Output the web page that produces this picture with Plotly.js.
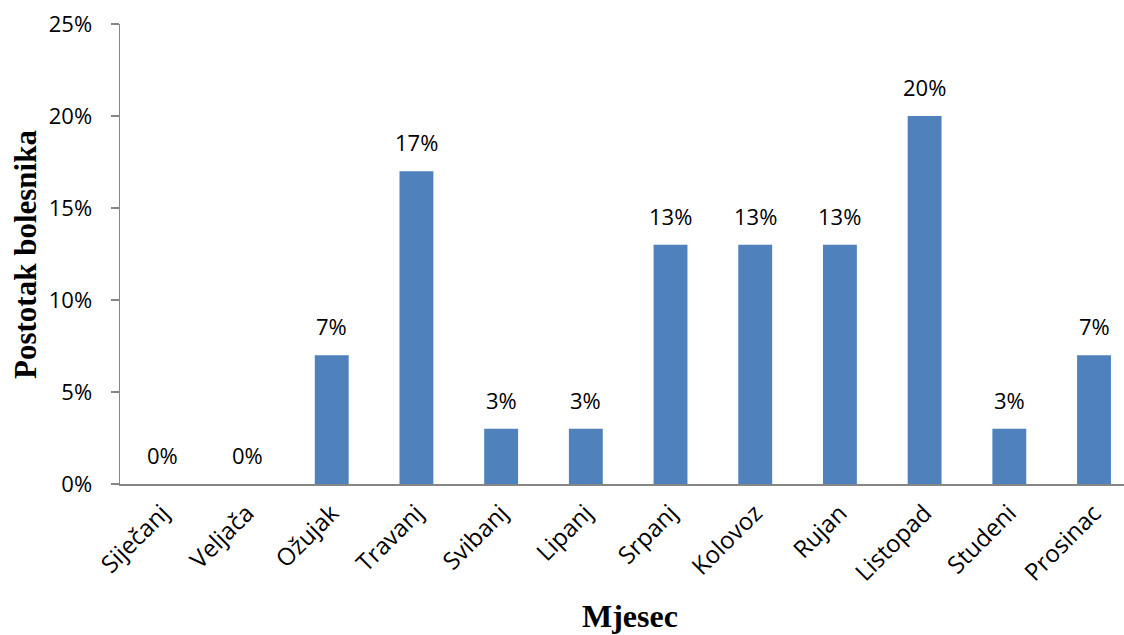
<!DOCTYPE html>
<html>
<head>
<meta charset="utf-8">
<script src="https://cdn.plot.ly/plotly-3.0.1.min.js"></script>
<style>html,body{margin:0;padding:0;background:#fff;}#chart{width:1124px;height:635px;}</style>
</head>
<body>
<div id="chart"></div>
<script>
const months = ["Siječanj","Veljača","Ožujak","Travanj","Svibanj","Lipanj","Srpanj","Kolovoz","Rujan","Listopad","Studeni","Prosinac"];
const percents = [0, 0, 7, 17, 3, 3, 13, 13, 13, 20, 3, 7];
const yTicks = [0, 5, 10, 15, 20, 25];
const yTickLabels = ["0%","5%","10%","15%","20%","25%"];
const xTitle = "Mjesec";
const yTitle = "Postotak bolesnika";

const tickFont = {family: "Open Sans, sans-serif", size: 22, color: "#000"};
const xTickFont = {family: "Open Sans, sans-serif", size: 24, color: "#000"};
const titleFont = {family: "Liberation Serif, Times New Roman, serif", size: 32, color: "#000"};

const trace = {
  type: "bar",
  x: months,
  y: percents,
  marker: {color: "#4F81BD"},
  hoverinfo: "none"
};

const labelAnns = months.map((m, i) => ({
  x: m, y: percents[i], xref: "x", yref: "y",
  text: percents[i] + "%",
  showarrow: false, yanchor: "bottom", yshift: 12,
  font: tickFont
}));

const layout = {
  width: 1124, height: 635,
  margin: {l: 120, r: 0, t: 24, b: 151},
  paper_bgcolor: "#fff", plot_bgcolor: "#fff",
  bargap: 0.6,
  showlegend: false,
  xaxis: {
    type: "category",
    range: [-0.5, 11.354],
    showline: true, linecolor: "#868686", linewidth: 1.5,
    ticks: "", tickangle: -45,
    tickfont: xTickFont,
    ticklabelstandoff: 4,
    showgrid: false, zeroline: false, fixedrange: true
  },
  yaxis: {
    range: [0, 25],
    tickvals: yTicks, ticktext: yTickLabels,
    showline: true, linecolor: "#868686", linewidth: 1.5,
    ticks: "outside", ticklen: 8, tickcolor: "#868686", tickwidth: 1.5,
    tickfont: tickFont,
    ticklabelstandoff: 14,
    showgrid: false, zeroline: false, fixedrange: true
  },
  annotations: labelAnns.concat([
    {xref: "paper", yref: "paper", x: (630-120)/1004, y: (484-616)/460,
     text: "<b>" + xTitle + "</b>", showarrow: false, xanchor: "center", yanchor: "middle", font: titleFont},
    {xref: "paper", yref: "paper", x: (25-120)/1004, y: (484-255)/460,
     text: "<b>" + yTitle + "</b>", showarrow: false, xanchor: "center", yanchor: "middle", textangle: -90,
     font: {family: titleFont.family, size: 31, color: "#000"}}
  ])
};

Plotly.newPlot("chart", [trace], layout, {displayModeBar: false, staticPlot: true});
</script>
</body>
</html>
